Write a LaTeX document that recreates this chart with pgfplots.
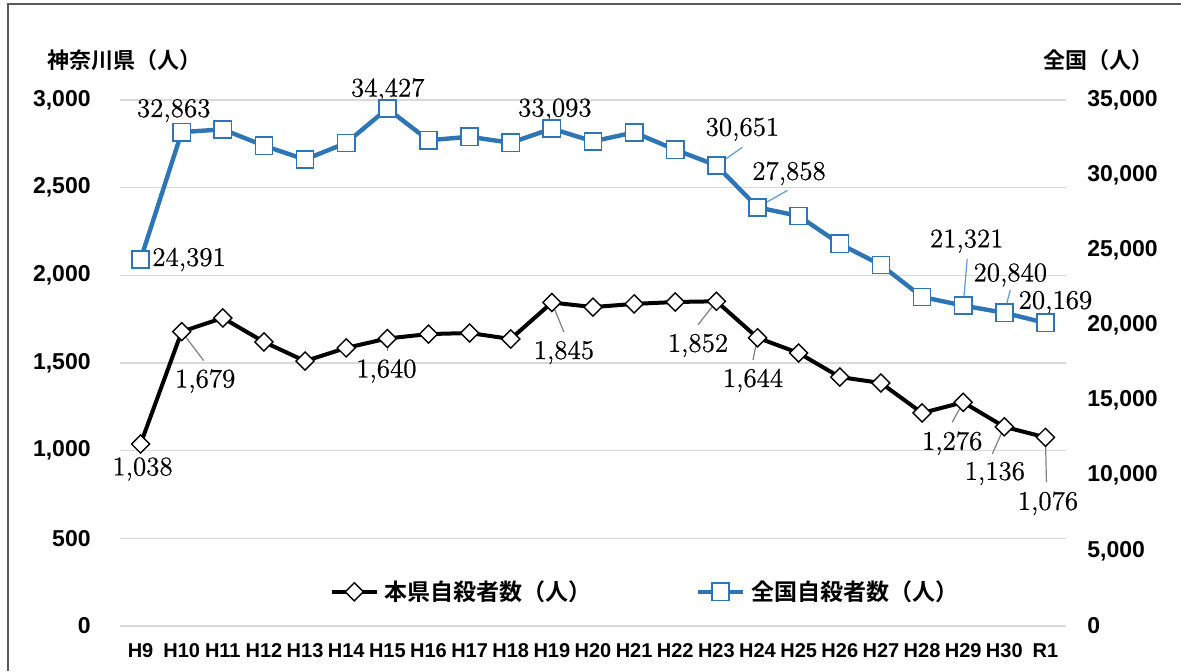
\documentclass[border=0pt]{standalone}
\usepackage{fontspec}
\setsansfont{Liberation Sans}
\newfontfamily\jp{Noto Sans CJK JP}[BoldFont={Noto Sans CJK JP Bold}]
\newfontfamily\numfont{Latin Modern Roman}[FakeBold=0.6]
\usepackage{pgfplots}
\usepackage{pgfplotstable}
\pgfplotsset{compat=1.18}

\definecolor{zenblue}{HTML}{2E75B6}
\definecolor{gridgray}{HTML}{D9D9D9}
\definecolor{leadgray}{HTML}{7F7F7F}
\definecolor{leadblue}{HTML}{5B9BD5}
\definecolor{framegray}{HTML}{595959}

% Kanagawa (left axis) and national (right axis) suicide counts, H9 .. R1
\pgfplotstableread{
x ken
0 1038
1 1679
2 1757
3 1620
4 1511
5 1586
6 1640
7 1665
8 1671
9 1637
10 1845
11 1819
12 1837
13 1848
14 1852
15 1644
16 1557
17 1420
18 1386
19 1215
20 1276
21 1136
22 1076
}\kendata

\pgfplotstableread{
x zen
0 24391
1 32863
2 33048
3 31957
4 31042
5 32143
6 34427
7 32325
8 32552
9 32155
10 33093
11 32249
12 32845
13 31690
14 30651
15 27858
16 27283
17 25427
18 24025
19 21897
20 21321
21 20840
22 20169
}\zendata

\newcommand\lab[5]{\node[font=\numfont\fontsize{13.5}{15}\selectfont, inner sep=0pt]
  at ([xshift=#3,yshift=#4]axis cs:#1,#2) {#5};}
\newcommand\lead[5]{\draw[#5, line width=0.6pt] (axis cs:#1,#2) -- ([xshift=#3,yshift=#4]axis cs:#1,#2);}

\pgfplotsset{
  kenline/.style={black, line width=2pt, mark=square*, mark size=3.2pt,
    mark options={rotate=45, fill=white, draw=black, line width=0.7pt, solid}},
  zenline/.style={zenblue, line width=2.2pt, mark=square*, mark size=4.3pt,
    mark options={fill=white, draw=zenblue, line width=0.8pt, solid}},
  common/.style={
    scale only axis, width=473pt, height=263pt,
    at={(60pt,22.5pt)}, anchor=south west,
    xmin=-0.5, xmax=22.5, clip=false,
    axis line style={draw=none}, major tick length=0pt,
    scaled y ticks=false,
    /pgf/number format/1000 sep={,},
    /pgf/number format/assume math mode=true,
    legend image code/.code={\draw[##1, mark repeat=2, mark phase=2]
      plot coordinates {(0pt,0pt) (11.25pt,0pt) (22.5pt,0pt)};},
  },
}

\begin{document}
\begin{tikzpicture}
\useasboundingbox (0,0) rectangle (590.5pt,335.5pt);
\draw[framegray, line width=1pt] (4pt,0) -- (4pt,333.5pt) -- (590.5pt,333.5pt);

\node[anchor=west, inner sep=0pt, font=\jp\bfseries\fontsize{11}{13}\selectfont] at (23.5pt,305.5pt) {神奈川県（人）};
\node[anchor=east, inner sep=0pt, font=\jp\bfseries\fontsize{11}{13}\selectfont] at (577pt,305.5pt) {全国（人）};

\begin{axis}[common,
  ymin=0, ymax=3000, ytick={0,500,...,3000},
  ymajorgrids, major grid style={gridgray, line width=0.75pt},
  yticklabel style={anchor=east, inner sep=0pt, xshift=-14.5pt,
    font=\sffamily\bfseries\fontsize{11.5}{13}\selectfont},
  xtick={0,...,22},
  xticklabels={H9,H10,H11,H12,H13,H14,H15,H16,H17,H18,H19,H20,H21,H22,H23,H24,H25,H26,H27,H28,H29,H30,R1},
  xticklabel style={anchor=base, inner sep=0pt, yshift=-15.75pt,
    font=\sffamily\bfseries\fontsize{10}{12}\selectfont},
  legend columns=2,
  legend style={at={(0.556,0.065)}, anchor=center, draw=none, fill=none,
    font=\jp\bfseries\fontsize{11.5}{13}\selectfont,
    /tikz/every even column/.append style={column sep=50pt},
    /tikz/every odd column/.append style={column sep=1pt}},
  legend cell align=left,
]
\addplot[kenline] table[x=x, y=ken] {\kendata};
\addlegendentry{本県自殺者数（人）}
\addlegendimage{zenline}
\addlegendentry{全国自殺者数（人）}

\lead{1}{1679}{11pt}{-14.5pt}{leadgray}
\lead{6}{1640}{0pt}{-6.25pt}{leadgray}
\lead{10}{1845}{6pt}{-14.75pt}{leadgray}
\lead{14}{1852}{-9.2pt}{-11.75pt}{leadgray}
\lead{15}{1644}{-2.25pt}{-11pt}{leadgray}
\lead{20}{1276}{-5.5pt}{-10pt}{leadgray}
\lead{21}{1136}{-6pt}{-13.5pt}{leadgray}
\lead{22}{1076}{0.5pt}{-22.5pt}{leadgray}

\lab{0}{1038}{1pt}{-12.5pt}{1,038}
\lab{1}{1679}{11.75pt}{-24.7pt}{1,679}
\lab{6}{1640}{-0.5pt}{-16.25pt}{1,640}
\lab{10}{1845}{6pt}{-25pt}{1,845}
\lab{14}{1852}{-9.2pt}{-22.1pt}{1,852}
\lab{15}{1644}{-2.25pt}{-21.35pt}{1,644}
\lab{20}{1276}{-5.5pt}{-20.5pt}{1,276}
\lab{21}{1136}{-4.75pt}{-23.35pt}{1,136}
\lab{22}{1076}{1.25pt}{-33pt}{1,076}
\end{axis}

\begin{axis}[common,
  axis x line=none, axis y line*=right,
  ymin=0, ymax=35000, ytick={0,5000,...,35000},
  yticklabel style={anchor=west, inner sep=0pt, xshift=10.5pt,
    font=\sffamily\bfseries\fontsize{11.5}{13}\selectfont},
]
\addplot[zenline] table[x=x, y=zen] {\zendata};

\lead{14}{30651}{13pt}{9pt}{leadblue}
\lead{15}{27858}{15pt}{8.5pt}{leadblue}
\lead{20}{21321}{2pt}{23.3pt}{leadblue}
\lead{21}{20840}{3pt}{11.5pt}{leadblue}

\lab{0}{24391}{24.25pt}{0pt}{24,391}
\lab{1}{32863}{-4pt}{10.75pt}{32,863}
\lab{6}{34427}{0.2pt}{9.3pt}{34,427}
\lab{10}{33093}{1.5pt}{9.3pt}{33,093}
\lab{14}{30651}{13pt}{18pt}{30,651}
\lab{15}{27858}{15.75pt}{17pt}{27,858}
\lab{20}{21321}{1.75pt}{32.3pt}{21,321}
\lab{21}{20840}{3pt}{19pt}{20,840}
\lab{22}{20169}{5pt}{10.2pt}{20,169}
\end{axis}
\end{tikzpicture}
\end{document}
